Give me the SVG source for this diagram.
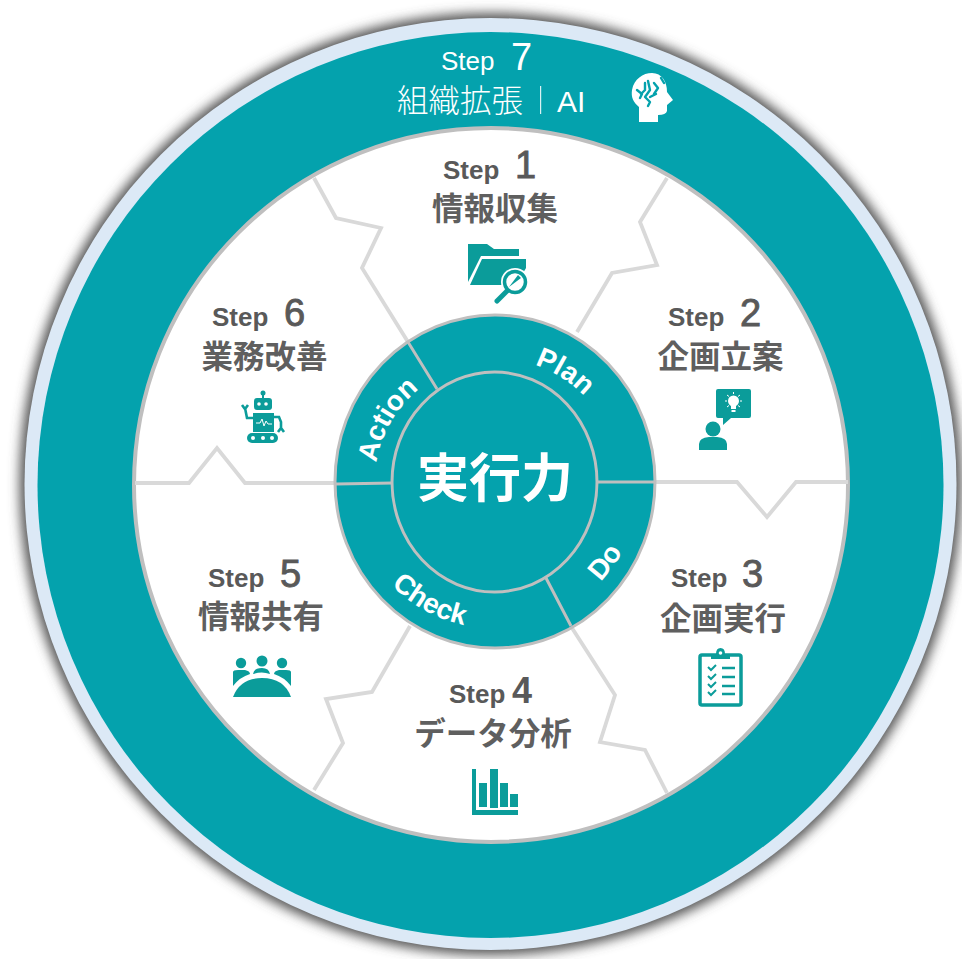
<svg xmlns="http://www.w3.org/2000/svg" width="962" height="959" viewBox="0 0 962 959">
<style>
.st{font:bold 26px "Liberation Sans",Arial,sans-serif;fill:#595959}
.num{font:38px "Liberation Sans",Arial,sans-serif;fill:#595959;stroke:#595959;stroke-width:.9}
.jp{font:bold 31.5px "Noto Sans CJK JP","Noto Sans CJK SC",sans-serif;fill:#5f5f5f;text-anchor:middle}
.pd{font:bold 28px "Liberation Sans",Arial,sans-serif;fill:#fff;text-anchor:middle}
.ln{fill:none;stroke:#d9d9d9;stroke-width:3.8;stroke-linejoin:miter}
.rg{fill:none;stroke:#bfbfbf;stroke-width:3}
.ic{fill:#0b9c9a}
.icw{fill:#fff}
.tl{fill:none;stroke:#04a2ad;stroke-width:2.400;stroke-linecap:round;stroke-linejoin:round}
</style>
<defs>
<filter id="glow" x="-5%" y="-5%" width="110%" height="110%"><feGaussianBlur stdDeviation="6"/></filter>
<path id="pPlan" d="M433 375A124 124 0 0 1 619 482"/>
<path id="pAction" d="M391 542A120 120 0 0 1 495 362"/>
<path id="pDo" d="M480 627A146 146 0 0 0 628 423"/>
<path id="pCheck" d="M349 485A146 146 0 0 0 571 607"/>
</defs>
<rect width="962" height="959" fill="#fff"/>
<g id="outer-ring">
<circle cx="490.500" cy="484" r="471" fill="#555" filter="url(#glow)"/>
<circle cx="490.500" cy="484" r="466" fill="#dce9f6"/>
<circle cx="490.500" cy="485" r="453" fill="#04a2ad"/>
</g>
<g id="wheel">
<circle cx="491" cy="485" r="357" fill="#fff" stroke="#bfbfbf" stroke-width="4"/>
</g>
<g id="connectors">
<path class="ln" d="M314 178L336 218L381 228L362 268L408 342"/>
<path class="ln" d="M667 178L640 222L657 265L612 273L577 332"/>
<path class="ln" d="M655 482H737L767 517L796 482H848"/>
<path class="ln" d="M572 628L615 695L600 742L645 750L667 793"/>
<path class="ln" d="M410 626L372 692L326 699L343 743L314 790"/>
<path class="ln" d="M135 483H189L217 448L245 483H335"/>
</g>
<g id="hub">
<ellipse cx="495" cy="481.500" rx="160" ry="166.500" fill="#04a2ad" stroke="#bfbfbf" stroke-width="3"/>
<ellipse cx="494.500" cy="482" rx="102.500" ry="110" class="rg"/>
<path class="rg" d="M408 342L437 389M597 482H654M546 578L571 626M336 484L393 483"/>
<text class="pd"><textPath href="#pPlan" startOffset="52%">Plan</textPath></text>
<text class="pd"><textPath href="#pAction" startOffset="50%">Action</textPath></text>
<text class="pd"><textPath href="#pDo" startOffset="50%">Do</textPath></text>
<text class="pd"><textPath href="#pCheck" startOffset="50%">Check</textPath></text>
<text x="495" y="497" text-anchor="middle" style="font:bold 52px 'Noto Sans CJK JP','Noto Sans CJK SC',sans-serif;fill:#fff">実行力</text>
</g>
<g id="step7">
<text x="441" y="70" style="font:26px 'Liberation Sans',Arial,sans-serif;fill:#fff">Step</text>
<text x="511" y="70" style="font:38px 'Liberation Sans',Arial,sans-serif;fill:#fff">7</text>
<text x="397" y="112" style="font:300 31.500px 'Noto Sans CJK JP','Noto Sans CJK SC',sans-serif;fill:#fff">組織拡張</text>
<rect x="540" y="86" width="1.200" height="28" fill="#fff" opacity=".85"/>
<text x="557" y="112" style="font:30px 'Liberation Sans',Arial,sans-serif;fill:#fff">AI</text>
<path class="icw" d="M639 122V107C633 102 631 97 632 90C634 79 643 73 652 73C662 73 667 82 667 92L673 100L667 105V111Q666 115 658 115V122Z"/>
<path class="tl" d="M637 90L642 94L640 98M645 83V90L641 94M648 81L650 90L645 97L650 102L648 106M650 97L656 94M654 83L658 88L654 94M661 78L664 83"/>
</g>
<g id="step1">
<text class="st" x="443" y="179">Step</text><text class="num" x="515" y="178">1</text>
<text class="jp" x="495" y="220">情報収集</text>
<path class="ic" d="M468 244H487L494 249H519V256H481L468 282Z"/>
<path class="ic" d="M482 259H526V268L516 285H470Z"/>
<circle cx="515" cy="282" r="14" fill="#fff"/>
<circle cx="515" cy="282" r="10.500" fill="#fff" stroke="#0b9c9a" stroke-width="3.500"/>
<path d="M509 287L518 275L521 278Z" class="ic"/>
<path d="M507 291L497 301" stroke="#0b9c9a" stroke-width="5" stroke-linecap="round"/>
</g>
<g id="step2">
<text class="st" x="668" y="326">Step</text><text class="num" x="740" y="326">2</text>
<text class="jp" x="720.500" y="368">企画立案</text>
<path class="ic" d="M718 389H749Q751 389 751 391V416Q751 418 749 418H731L723 425V418H718Q716 418 716 416V391Q716 389 718 389Z"/>
<circle cx="733.500" cy="401" r="5.500" class="icw"/>
<path class="icw" d="M731 405H736V409H731ZM731.500 410H735.500V412H731.500Z"/>
<path d="M733.500 392V394M725 401H727M740 401H742M727 395L729 396.500M740 395L738 396.500M727 407L729 405.500M740 407L738 405.500" stroke="#fff" stroke-width="1"/>
<circle class="ic" cx="713" cy="429" r="7.500"/>
<path class="ic" d="M699 450V444Q699 438 709 437H717Q727 438 727 444V450Z"/>
</g>
<g id="step3">
<text class="st" x="671" y="587">Step</text><text class="num" x="742" y="587">3</text>
<text class="jp" x="723" y="630">企画実行</text>
<rect x="700" y="655" width="41" height="50" rx="2" fill="#fff" stroke="#0b9c9a" stroke-width="3.500"/>
<path class="ic" d="M711 659V654H716Q716 648 720.500 648Q725 648 725 654H730V659Z"/>
<circle cx="720.500" cy="653" r="1.800" fill="#fff"/>
<path d="M708 667L711 670L716 665M708 676L711 679L716 674M708 684L711 687L716 682M708 692L711 695L716 690" fill="none" stroke="#0b9c9a" stroke-width="2"/>
<path d="M722 668H735M722 677H735M722 686H735M722 694H735" stroke="#0b9c9a" stroke-width="2.500"/>
</g>
<g id="step4">
<text class="st" x="449" y="703">Step</text><text class="num" x="512" y="703" style="font-size:36px;font-weight:bold;stroke:none">4</text>
<text class="jp" x="493" y="745">データ分析</text>
<path class="ic" d="M472 769H476V810H518V815H472Z"/>
<path class="ic" d="M479 783H487V807H479ZM490 769H498V808H490ZM500 783H508V807H500ZM510 794H518V807H510Z"/>
</g>
<g id="step5">
<text class="st" x="208" y="587">Step</text><text class="num" x="280" y="587">5</text>
<text class="jp" x="261" y="628">情報共有</text>
<circle class="ic" cx="241" cy="663" r="5.200"/><circle class="ic" cx="262" cy="661" r="5.500"/><circle class="ic" cx="282" cy="663" r="5.200"/>
<path class="ic" d="M253 674Q254 668 262 668Q269 668 270 674Q262 671 253 674Z"/>
<path class="ic" d="M233 672Q233 670 238 670H245Q250 671 250 674Q240 677 233 686Z"/>
<path class="ic" d="M291 672Q291 670 286 670H279Q274 671 274 674Q284 677 291 686Z"/>
<path class="ic" d="M233 697Q240 678 262 678Q284 678 291 697Z"/>
</g>
<g id="step6">
<text class="st" x="212" y="326">Step</text><text class="num" x="284" y="326">6</text>
<text class="jp" x="264.500" y="368">業務改善</text>
<circle class="ic" cx="263" cy="393" r="2.500"/>
<rect class="ic" x="262" y="394" width="2" height="5"/>
<rect class="ic" x="254" y="398" width="18" height="12" rx="3"/>
<circle cx="259" cy="404" r="1.800" fill="#fff"/><circle cx="266" cy="404" r="1.800" fill="#fff"/>
<rect class="ic" x="253" y="413" width="21" height="19"/>
<path d="M256 423H260L262 419L264 426L266 421L268 424H272" fill="none" stroke="#fff" stroke-width="1"/>
<rect class="ic" x="247" y="433" width="31" height="10" rx="5"/>
<circle cx="253" cy="438" r="2" fill="#fff"/><circle cx="263" cy="438" r="2" fill="#fff"/><circle cx="272" cy="438" r="2" fill="#fff"/>
<path d="M253 418H247L245 408M242 405L245 409L248 405M274 417H279L281 422V428M278 432L281 428L284 432" fill="none" stroke="#0b9c9a" stroke-width="2.600"/>
</g>
</svg>
